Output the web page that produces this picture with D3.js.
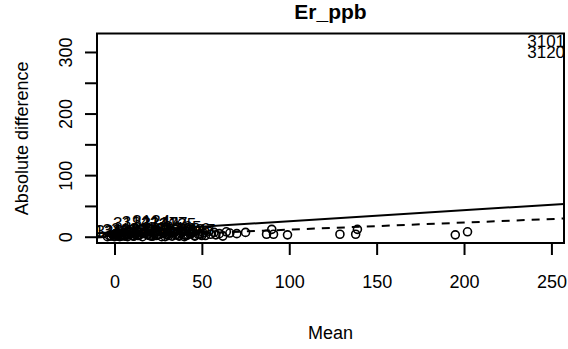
<!DOCTYPE html>
<html>
<head>
<meta charset="utf-8">
<script src="https://cdn.jsdelivr.net/npm/d3@7"></script>
<style>
  body { margin: 0; background: #fff; }
  svg { display: block; font-family: "Liberation Sans", Arial, sans-serif; }
</style>
</head>
<body>
<svg id="chart" width="568" height="349"></svg>
<script>
// plain points (Mean, Absolute difference)
const meanVals = [-3, -2, -1, 0, 0.5, 1, 1.5, 2, 2.5, 3, 3.5, 4, 5, 5.5, 6, 7, 7.5, 8, 9, 10, 10.5,
  11, 12, 13, 14, 15, 16, 17, 18, 19, 20, 21, 22, 23, 24, 25, 26, 27, 28, 29, 30,
  31, 32, 33, 34, 35, 36, 37, 38, 39, 40, 41, 42, 43, 44, 45, 46, 47, 48, 49, 50,
  1, 4, 7, 10, 13, 16, 19, 22, 25, 28, 31, 34, 37, 40, 43, 46, 49,
  -4, 2, 5, 8, 11, 14, 17, 20, 23, 26, 29, 32, 35, 38, 41, 44,
  51, 52, 54, 55, 57, 58, 60, 62, 64, 66, 70, 75, 87, 91, 90, 99, 129, 138, 139, 195, 202];
const diffVals = [2, 1, 3, 0, 5, 2, 6, 1, 4, 0, 6, 3, 2, 7, 1, 5, 0, 3, 8, 2, 6,
  1, 4, 9, 2, 7, 0, 5, 9, 3, 8, 1, 6, 10, 2, 4, 9, 0, 7, 11, 3,
  5, 10, 1, 8, 12, 4, 2, 6, 11, 0, 9, 3, 12, 5, 7, 1, 10, 4, 13, 2,
  4, 1, 3, 5, 2, 6, 4, 1, 3, 5, 2, 6, 1, 3, 5, 2, 4,
  0, 3, 6, 8, 1, 4, 7, 2, 5, 8, 0, 6, 3, 9, 2, 7,
  6, 2, 9, 4, 7, 3, 5, 1, 8, 6, 5, 7, 4, 4, 12, 3, 4, 4, 12, 3, 8];

// labelled points (drawn as their id, centred on the point)
const labelIds = ["3121", "3104", "3108", "3133", "3157", "3110", "3152", "3114", "3139",
  "3165", "3196", "3147", "3183", "3141", "3124", "3142", "3177", "3135",
  "3101", "3120"];
const labelMeans = [-6, 0, 4, 9, 14, 19, 24, 29, 34, 39, 44, 47,
  10, 15, 21, 26, 31, 36, 247, 247];
const labelDiffs = [10, 9, 11, 12, 10, 13, 11, 14, 12, 15, 13, 11,
  22, 24, 25, 23, 22, 21, 318, 300];

// reference lines: [intercept, slope]
const upperLine = [7.4, 0.178];
const fitLine = [0, 0.115];

const xTicks = [0, 50, 100, 150, 200, 250];
const yTicks = [0, 50, 100, 150, 200, 250, 300];
const yTickLabels = [0, 100, 200, 300];

const margin = { top: 33.5, right: 4, bottom: 106, left: 97 };
const width = 568, height = 349;
const svg = d3.select("#chart");

const x = d3.scaleLinear().domain([-10, 257.2]).range([margin.left, width - margin.right]);
const y = d3.scaleLinear().domain([-10.2, 330]).range([height - margin.bottom, margin.top]);

svg.append("clipPath").attr("id", "plotclip")
  .append("rect")
  .attr("x", margin.left).attr("y", margin.top)
  .attr("width", width - margin.right - margin.left)
  .attr("height", height - margin.bottom - margin.top);

const plot = svg.append("g").attr("clip-path", "url(#plotclip)");

// points
plot.selectAll("circle.pt")
  .data(meanVals)
  .enter().append("circle")
  .attr("class", "pt")
  .attr("cx", d => x(d))
  .attr("cy", (d, i) => y(diffVals[i]))
  .attr("r", 4)
  .attr("fill", "none")
  .attr("stroke", "#000")
  .attr("stroke-width", 1.6);

// labels
plot.selectAll("text.lab")
  .data(labelIds)
  .enter().append("text")
  .attr("class", "lab")
  .attr("x", (d, i) => x(labelMeans[i]))
  .attr("y", (d, i) => y(labelDiffs[i]))
  .attr("dy", "0.35em")
  .attr("text-anchor", "middle")
  .attr("font-size", 17)
  .text(d => d);

// lines
const xd = x.domain();
plot.append("line")
  .attr("x1", x(xd[0])).attr("y1", y(upperLine[0] + upperLine[1] * xd[0]))
  .attr("x2", x(xd[1])).attr("y2", y(upperLine[0] + upperLine[1] * xd[1]))
  .attr("stroke", "#000").attr("stroke-width", 2);
plot.append("line")
  .attr("x1", x(xd[0])).attr("y1", y(fitLine[0] + fitLine[1] * xd[0]))
  .attr("x2", x(xd[1])).attr("y2", y(fitLine[0] + fitLine[1] * xd[1]))
  .attr("stroke", "#000").attr("stroke-width", 2)
  .attr("stroke-dasharray", "8,7");

// box
svg.append("rect")
  .attr("x", margin.left).attr("y", margin.top)
  .attr("width", width - margin.right - margin.left)
  .attr("height", height - margin.bottom - margin.top)
  .attr("fill", "none").attr("stroke", "#000").attr("stroke-width", 2);

// x axis
const xAxis = svg.append("g")
  .attr("transform", `translate(0,${height - margin.bottom})`)
  .call(d3.axisBottom(x).tickValues(xTicks).tickSize(12).tickPadding(20));
xAxis.select(".domain").remove();
xAxis.selectAll("line").attr("stroke-width", 2);
xAxis.selectAll("text").attr("font-size", 18).attr("font-family", "Liberation Sans, Arial, sans-serif");

// y axis
const yAxis = svg.append("g")
  .attr("transform", `translate(${margin.left},0)`)
  .call(d3.axisLeft(y).tickValues(yTicks).tickSize(12)
    .tickFormat(d => yTickLabels.includes(d) ? d : ""));
yAxis.select(".domain").remove();
yAxis.selectAll("line").attr("stroke-width", 2);
yAxis.selectAll("text")
  .attr("font-size", 18)
  .attr("font-family", "Liberation Sans, Arial, sans-serif")
  .attr("text-anchor", "middle")
  .attr("x", 0).attr("dy", 0)
  .attr("transform", "translate(-25,0) rotate(-90)");

// titles
svg.append("text")
  .attr("x", (margin.left + width - margin.right) / 2)
  .attr("y", 19)
  .attr("text-anchor", "middle")
  .attr("font-size", 21)
  .attr("font-weight", "bold")
  .text("Er_ppb");

svg.append("text")
  .attr("x", (margin.left + width - margin.right) / 2)
  .attr("y", 339)
  .attr("text-anchor", "middle")
  .attr("font-size", 18)
  .text("Mean");

svg.append("text")
  .attr("transform", `translate(28,${(margin.top + height - margin.bottom) / 2}) rotate(-90)`)
  .attr("text-anchor", "middle")
  .attr("font-size", 18)
  .text("Absolute difference");
</script>
</body>
</html>
